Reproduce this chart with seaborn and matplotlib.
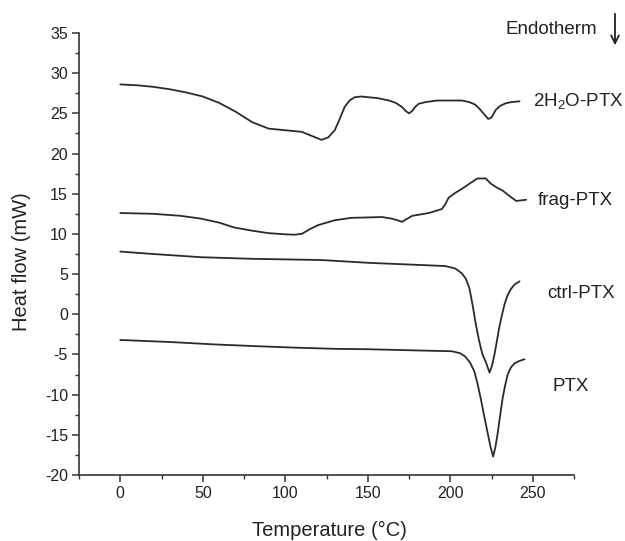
import numpy as np
import pandas as pd
import matplotlib
matplotlib.use("Agg")
import matplotlib.pyplot as plt
import seaborn as sns
from matplotlib.ticker import MultipleLocator

# ---- data ----
x_h2o = [0, 10, 20, 30, 40, 50, 60, 70, 80, 90, 100, 110, 116, 122, 126, 130, 133, 136, 139, 142,
         146, 150.6, 156, 162.8, 167, 170.7, 173, 175, 177, 178.7, 181, 185, 192, 201, 207, 211.6,
         215, 217.6, 220.5, 223, 225, 227.5, 230, 233.5, 237, 242]
y_h2o = [28.6, 28.5, 28.3, 28.0, 27.6, 27.1, 26.3, 25.2, 23.9, 23.1, 22.9, 22.7, 22.2, 21.7, 22.0, 22.9, 24.3, 25.8, 26.6, 27.0,
         27.1, 27.0, 26.9, 26.6, 26.3, 25.8, 25.3, 25.0, 25.3, 25.8, 26.2, 26.4, 26.6, 26.6, 26.6, 26.4,
         26.1, 25.6, 24.9, 24.3, 24.5, 25.4, 25.9, 26.25, 26.4, 26.5]

x_frag = [0, 20, 36.6, 49, 60, 69, 80, 89.6, 100, 105.5, 110, 115, 120, 130, 140, 150, 158.5, 164.6,
          168, 170.7, 174, 177, 187, 195, 197, 199, 203, 207, 212, 216.5, 221.5, 224.6, 228,
          231.7, 236, 240, 246]
y_frag = [12.6, 12.5, 12.25, 11.9, 11.4, 10.8, 10.4, 10.1, 9.95, 9.9, 10.0, 10.6, 11.1, 11.7, 12.0, 12.05, 12.1, 11.9,
          11.7, 11.5, 11.9, 12.25, 12.6, 13.1, 13.7, 14.5, 15.1, 15.6, 16.3, 16.9, 16.9, 16.25, 15.8,
          15.4, 14.7, 14.1, 14.25]

x_ctrl = [0, 20, 49, 80, 122, 150.6, 180, 197, 203, 207, 209.5, 211.6, 213.5, 215.5, 217.5, 219.5,
          221.5, 223.8, 225.3, 226.8, 228.2, 229.6, 231.2, 232.9, 234.6, 236.6, 239, 242]
y_ctrl = [7.8, 7.5, 7.1, 6.9, 6.75, 6.4, 6.15, 6.0, 5.7, 5.1, 4.4, 3.25, 1.2, -1.25, -3.3, -5.0,
          -5.9, -7.25, -6.4, -5.0, -3.4, -1.75, -0.2, 1.25, 2.3, 3.1, 3.7, 4.1]

x_ptx = [0, 30, 57, 80, 105.5, 130, 150, 180, 201, 206, 209, 212, 214.6, 216.5, 218.5, 220.5, 222.5,
         224.3, 226, 227.3, 228.6, 230.1, 231.7, 233.2, 234.8, 236.8, 239, 242, 245]
y_ptx = [-3.2, -3.45, -3.75, -3.95, -4.15, -4.3, -4.35, -4.5, -4.6, -4.85, -5.25, -6.0, -7.1, -8.6, -10.5, -12.6, -14.6,
         -16.4, -17.7, -16.6, -15.0, -12.8, -10.5, -8.9, -7.5, -6.6, -6.1, -5.8, -5.6]

series_names = ["2H$_2$O-PTX", "frag-PTX", "ctrl-PTX", "PTX"]
label_x = [250, 253, 259, 262]
label_y = [26.6, 14.1, 2.6, -9.0]

xticks = [0, 50, 100, 150, 200, 250]
yticks = [-20, -15, -10, -5, 0, 5, 10, 15, 20, 25, 30, 35]

# ---- build long-form table ----
frames = []
for name, xs, ys in zip(series_names,
                        [x_h2o, x_frag, x_ctrl, x_ptx],
                        [y_h2o, y_frag, y_ctrl, y_ptx]):
    frames.append(pd.DataFrame({"Temperature": xs, "Heat flow": ys, "series": name}))
df = pd.concat(frames, ignore_index=True)

sns.set_style("ticks")
plt.rcParams["font.family"] = ["Liberation Sans", "DejaVu Sans"]
plt.rcParams["mathtext.default"] = "regular"
plt.rcParams["axes.unicode_minus"] = False

fig = plt.figure(figsize=(6.25, 5.41), dpi=100)
ax = fig.add_axes([79 / 625, 1 - 475 / 541, 495 / 625, 442 / 541])

line_color = "#2b2b2b"
sns.lineplot(data=df, x="Temperature", y="Heat flow", hue="series",
             palette={n: line_color for n in series_names}, sort=False,
             estimator=None, legend=False, linewidth=1.3, ax=ax)

ax.set_xlim(-25, 275)
ax.set_ylim(-20, 35)
ax.set_xticks(xticks)
ax.set_yticks(yticks)
ax.xaxis.set_minor_locator(MultipleLocator(25))
ax.yaxis.set_minor_locator(MultipleLocator(2.5))
ax.tick_params(axis="both", which="major", direction="out", length=5, width=1.1,
               labelsize=11.5, color="#333333", labelcolor="#222222", pad=3)
ax.tick_params(axis="both", which="minor", direction="out", length=3, width=1.0, color="#333333")
sns.despine(ax=ax)
for s in ["left", "bottom"]:
    ax.spines[s].set_linewidth(1.2)
    ax.spines[s].set_color("#333333")

ax.set_xlabel("Temperature (\u00b0C)", fontsize=14.5, color="#222222")
ax.set_ylabel("Heat flow (mW)", fontsize=14.5, color="#222222")
ax.xaxis.set_label_coords(0.505, -0.104)
ax.yaxis.set_label_coords(-0.097, 0.482)

for name, lx, ly in zip(series_names, label_x, label_y):
    ax.text(lx, ly, name, fontsize=13.5, va="center", ha="left", color="#222222", clip_on=False)

fig.text(551 / 625, 1 - 30 / 541, "Endotherm", fontsize=13.5, ha="center", va="center", color="#222222")
ax.annotate("", xy=(615 / 625, 1 - 48 / 541), xytext=(615 / 625, 1 - 11 / 541),
            xycoords="figure fraction", textcoords="figure fraction",
            arrowprops=dict(arrowstyle="->", color="#222222", lw=1.3, mutation_scale=14))

fig.savefig("out.png", dpi=100)
